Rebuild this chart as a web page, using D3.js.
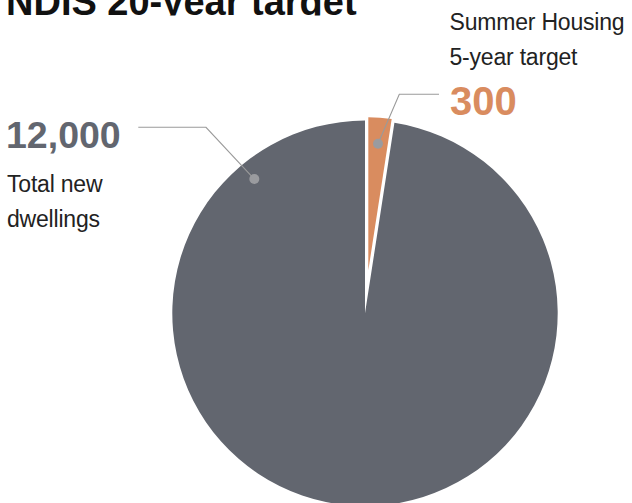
<!DOCTYPE html>
<html><head><meta charset="utf-8">
<script src="https://cdn.jsdelivr.net/npm/d3@7"></script>
<style>
html,body{margin:0;padding:0;background:#fff;}
svg{display:block;font-family:"Liberation Sans",Arial,Helvetica,sans-serif;}
</style></head>
<body>
<script>
// ---- data ----
const title = "NDIS 20-year target";
const categories = ["Summer Housing 5-year target", "Total new dwellings"];
const values = [300, 12000];
const valueLabels = ["300", "12,000"];
const descLines = [["Summer Housing", "5-year target"], ["Total new", "dwellings"]];
const colors = ["#d98c5f", "#62666f"];

const W = 632, H = 503;
const svg = d3.select("body").append("svg").attr("width", W).attr("height", H);

const cx = 365, cy = 313.3, R = 192.7;
const explode = 43, explodeShrink = 39.5;

const pie = d3.pie().sort(null).value(d => d);
const arcs = pie(values);

const g = svg.append("g").attr("transform", `translate(${cx},${cy})`);

arcs.forEach((a, i) => {
  const mid = (a.startAngle + a.endAngle) / 2;
  const off = i === 0 ? explode : 0;
  const rr = i === 0 ? R - explodeShrink : R;
  const arc = d3.arc().innerRadius(0).outerRadius(rr);
  g.append("path")
    .attr("d", arc(a))
    .attr("fill", colors[i])
    .attr("transform", `translate(${Math.sin(mid) * off},${-Math.cos(mid) * off})`);
});

// leader dots & lines
const dotColor = "#9a9b9f", lineColor = "#9a9a9a";
const dotArc = d3.arc();
const dotSpecs = [
  {r: 170, angle: (arcs[0].startAngle + arcs[0].endAngle) / 2},
  {r: 174, angle: -39.5 * Math.PI / 180}
];
const leaderPts = [
  [[399.3, 94.3], [439, 94.3]],
  [[206, 127.3], [138.3, 127.3]]
];
dotSpecs.forEach((s, i) => {
  const c = dotArc.centroid({innerRadius: s.r, outerRadius: s.r, startAngle: s.angle, endAngle: s.angle});
  const p = [c[0] + cx, c[1] + cy];
  svg.append("path")
    .attr("d", d3.line()([p, ...leaderPts[i]]))
    .attr("fill", "none").attr("stroke", lineColor).attr("stroke-width", 1.1);
  svg.append("circle").attr("cx", p[0]).attr("cy", p[1]).attr("r", 5).attr("fill", dotColor);
});

// title (clipped at top/bottom like the reference)
svg.append("clipPath").attr("id", "tclip").append("rect")
  .attr("x", 0).attr("y", 0).attr("width", W).attr("height", 15.5);
svg.append("text").attr("clip-path", "url(#tclip)")
  .attr("x", 6).attr("y", 14.5)
  .attr("font-size", 38).attr("font-weight", "bold").attr("fill", "#111")
  .text(title);

// orange label (right)
svg.append("text").attr("x", 449.5).attr("y", 30)
  .attr("font-size", 23).attr("letter-spacing", -0.2).attr("fill", "#222")
  .text(descLines[0][0]);
svg.append("text").attr("x", 449.5).attr("y", 65)
  .attr("font-size", 23).attr("letter-spacing", -0.2).attr("fill", "#222")
  .text(descLines[0][1]);
svg.append("text").attr("x", 450).attr("y", 115)
  .attr("font-size", 40).attr("font-weight", "bold").attr("fill", colors[0])
  .text(valueLabels[0]);

// grey label (left)
svg.append("text").attr("x", 6).attr("y", 148)
  .attr("font-size", 37.5).attr("font-weight", "bold").attr("fill", colors[1])
  .text(valueLabels[1]);
svg.append("text").attr("x", 7).attr("y", 192)
  .attr("font-size", 23).attr("letter-spacing", -0.2).attr("fill", "#222")
  .text(descLines[1][0]);
svg.append("text").attr("x", 7).attr("y", 227)
  .attr("font-size", 23).attr("letter-spacing", -0.2).attr("fill", "#222")
  .text(descLines[1][1]);
</script>
</body></html>
